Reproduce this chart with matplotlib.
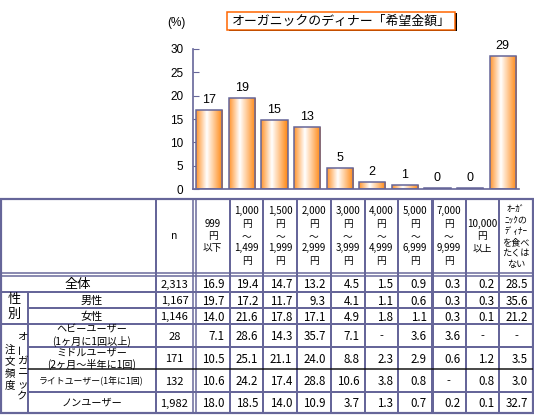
import math
import numpy as np
import matplotlib
matplotlib.use('Agg')
import matplotlib.pyplot as plt
from matplotlib.colors import LinearSegmentedColormap
from matplotlib.patches import Rectangle

plt.rcParams['font.family'] = ['Noto Sans CJK JP', 'DejaVu Sans']

# ---- data ----
title = 'オーガニックのディナー「希望金額」'
price_bands = ['999\n円\n以下',
               '1,000\n円\n～\n1,499\n円',
               '1,500\n円\n～\n1,999\n円',
               '2,000\n円\n～\n2,999\n円',
               '3,000\n円\n～\n3,999\n円',
               '4,000\n円\n～\n4,999\n円',
               '5,000\n円\n～\n6,999\n円',
               '7,000\n円\n～\n9,999\n円',
               '10,000\n円\n以上',
               'ｵｰｶﾞ\nﾆｯｸの\nﾃﾞｨﾅｰ\nを食べ\nたくは\nない']

row_labels = ['全体', '男性', '女性',
              'ヘビーユーザー\n(1ヶ月に1回以上)',
              'ミドルユーザー\n(2ヶ月～半年に1回)',
              'ライトユーザー(1年に1回)',
              'ノンユーザー']
n_values = [2313, 1167, 1146, 28, 171, 132, 1982]

overall = [16.9, 19.4, 14.7, 13.2, 4.5, 1.5, 0.9, 0.3, 0.2, 28.5]
male = [19.7, 17.2, 11.7, 9.3, 4.1, 1.1, 0.6, 0.3, 0.3, 35.6]
female = [14.0, 21.6, 17.8, 17.1, 4.9, 1.8, 1.1, 0.3, 0.1, 21.2]
heavy = [7.1, 28.6, 14.3, 35.7, 7.1, None, 3.6, 3.6, None, None]
middle = [10.5, 25.1, 21.1, 24.0, 8.8, 2.3, 2.9, 0.6, 1.2, 3.5]
light = [10.6, 24.2, 17.4, 28.8, 10.6, 3.8, 0.8, None, 0.8, 3.0]
non_user = [18.0, 18.5, 14.0, 10.9, 3.7, 1.3, 0.7, 0.2, 0.1, 32.7]
table_rows = [overall, male, female, heavy, middle, light, non_user]

W, H = 534, 415
LINE = '#666699'

fig = plt.figure(figsize=(W / 100, H / 100), dpi=100)

# overlay in pixel coordinates for the table and decorations
ov = fig.add_axes([0, 0, 1, 1])
ov.set_xlim(0, W)
ov.set_ylim(H, 0)
ov.axis('off')

# ---- bar chart ----
ax = fig.add_axes([193 / W, 1 - 189.3 / H, 326 / W, 140.6 / H])
ax.patch.set_alpha(0)
x = np.arange(len(overall))
bars = ax.bar(x, overall, width=0.8, facecolor='none', edgecolor=LINE,
              linewidth=1.1, zorder=3)

grad = LinearSegmentedColormap.from_list(
    'bargrad', [(0, '#FF9530'), (0.4, '#FFFFFF'), (1, '#FF8610')])
g = np.linspace(0, 1, 64).reshape(1, -1)
for b in bars:
    im = ax.imshow(g, cmap=grad, aspect='auto', interpolation='bilinear',
                   extent=(b.get_x(), b.get_x() + b.get_width(),
                           0, b.get_height()), zorder=2)
    im.set_clip_path(b)

for xi, v in zip(x, overall):
    ax.annotate(str(math.floor(v + 0.5)), (xi, v), xytext=(0, 3),
                textcoords='offset points', ha='center', va='bottom',
                fontsize=9, family='Liberation Sans')

ax.set_xlim(-0.5, 9.5)
ax.set_ylim(0, 30)
ax.set_yticks(range(0, 31, 5))
ax.set_xticks([])
for s in ['top', 'right']:
    ax.spines[s].set_visible(False)
for s in ['left', 'bottom']:
    ax.spines[s].set_color(LINE)
    ax.spines[s].set_linewidth(1.2)
ax.tick_params(axis='y', direction='in', length=4, color=LINE,
               labelsize=8.5, pad=7)
for t in ax.get_yticklabels():
    t.set_family('Liberation Sans')

ov.text(176, 23, '(%)', ha='center', va='center', fontsize=8.5,
        family='Liberation Sans')

# title box with shadow
ov.add_patch(Rectangle((228.5, 13.5), 228, 18, facecolor='black',
                       edgecolor='none'))
ov.add_patch(Rectangle((227, 12), 228, 18, facecolor='white',
                       edgecolor='#FF6600', lw=1.1))
ov.text(341, 21.5, title, ha='center', va='center', fontsize=9.3)

# ---- table ----
col_edges = np.linspace(196, 533, len(price_bands) + 1)
row_edges = [275, 292, 308, 324, 347, 369, 392, 413]


def hline(y, x0, x1, px=2.0, c=LINE):
    ov.plot([x0, x1], [y, y], color=c, lw=px * 0.72, solid_capstyle='butt')


def vline(xv, y0, y1, px=2.0, c=LINE):
    ov.plot([xv, xv], [y0, y1], color=c, lw=px * 0.72, solid_capstyle='butt')


ov.add_patch(Rectangle((1, 199), 532, 214, facecolor='none',
                       edgecolor=LINE, lw=2.2 * 0.72))
hline(272.5, 0, 533, 1.5)
hline(275.5, 0, 533, 1.5)
vline(155.5, 199, 413)
vline(193, 199, 413, 1.5)
vline(196, 199, 413, 1.5)
for i, xe in enumerate(col_edges[1:-1]):
    vline(xe, 199, 413, 3.0 if i == 6 else 2.0)
vline(28, 292, 413)
hline(292, 0, 533)
hline(308, 28, 533)
hline(324, 0, 533)
hline(347, 28, 533)
hline(369, 28, 533, 1.5, '#111111')
hline(392, 28, 533)

# header texts
ov.text(174.5, 236, 'n', ha='center', va='center', fontsize=7.5)
for i, lab in enumerate(price_bands):
    cx = (col_edges[i] + col_edges[i + 1]) / 2
    last = i == len(price_bands) - 1
    ov.text(cx, 237 if last else 236, lab, ha='center', va='center',
            multialignment='center',
            fontsize=6.6 if last else 7, linespacing=1.3)

# row labels
label_x = [77.5, 91.5, 91.5, 91.5, 91.5, 91.5, 91.5]
label_size = [9.5, 8, 8, 7.3, 7.3, 6.4, 7.3]
for r, lab in enumerate(row_labels):
    cy = (row_edges[r] + row_edges[r + 1]) / 2 + 0.5
    ov.text(label_x[r], cy, lab, ha='center', va='center',
            multialignment='center', fontsize=label_size[r], linespacing=1.2)

for i, ch in enumerate('性別'):
    ov.text(14, 299.5 + i * 14.5, ch, ha='center', va='center', fontsize=9.5)
for i, ch in enumerate('注文頻度'):
    ov.text(9.5, 350 + i * 11.6, ch, ha='center', va='center', fontsize=7.5)
for i, ch in enumerate('オーガニック'):
    ov.text(22, 337 + i * 11.8, ch, ha='center', va='center', fontsize=7.5,
            rotation=90 if ch == 'ー' else 0)

# numbers
for r, vals in enumerate(table_rows):
    cy = (row_edges[r] + row_edges[r + 1]) / 2 + 1
    ov.text(174.5, cy, f'{n_values[r]:,}', ha='center', va='center',
            fontsize=8)
    for j, v in enumerate(vals):
        if v is None:
            cx = (col_edges[j] + col_edges[j + 1]) / 2
            ov.text(cx, cy, '-', ha='center', va='center', fontsize=8)
        else:
            ov.text(col_edges[j + 1] - 5, cy, f'{v:.1f}', ha='right',
                    va='center', fontsize=8.3)

fig.savefig('out.png', dpi=100)
